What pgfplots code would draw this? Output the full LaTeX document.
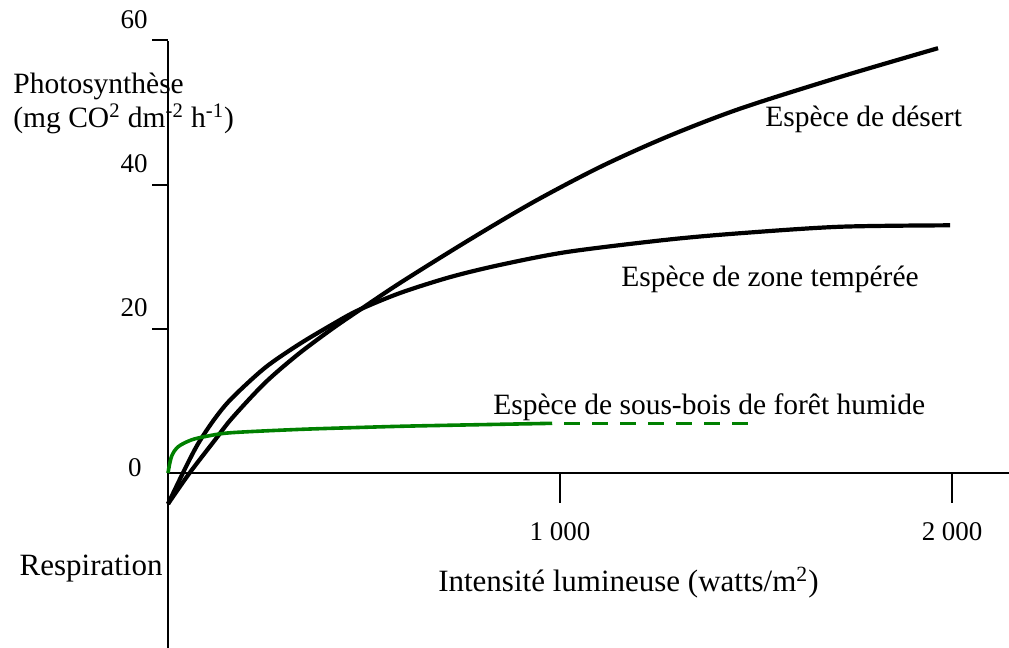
\documentclass[border=0pt]{standalone}
\usepackage{fontspec}
\setmainfont{Liberation Serif}
\usepackage{pgfplots}
\pgfplotsset{compat=1.18}
\definecolor{forestgreen}{RGB}{0,128,0}

\begin{document}
\begin{tikzpicture}
  \begin{axis}[
      scale only axis,
      width=420.5pt, height=303.5pt,
      xmin=0, xmax=2145, ymin=-24.3, ymax=60,
      axis x line=middle, axis y line=left,
      axis line style={line width=1pt, -},
      major tick length=0pt,
      xtick={1000,2000}, xticklabels={1 000,2 000},
      ytick={20,40,60}, yticklabels={20,40,60},
      extra y ticks={0}, extra y tick labels={0},
      extra y tick style={yticklabel style={xshift=-3pt, yshift=-7.5pt}},
      xticklabel style={anchor=base, inner sep=0pt, yshift=-33.5pt,
        font=\fontsize{13.5}{16}\selectfont},
      yticklabel style={anchor=base east, inner sep=0pt, xshift=-10pt, yshift=6pt,
        font=\fontsize{13.5}{16}\selectfont},
      clip=false,
    ]
    % espece de desert
    \addplot[black, line width=2.1pt, smooth] coordinates {
      (0,-4.3) (55,0) (120,4.6) (163,7.6) (247,12.5) (332,16.5) (418,20.0)
      (485,22.5) (592,26.4) (763,32.2) (931,37.6) (1102,42.5) (1273,46.7)
      (1459,50.6) (1714,55.0) (1964,59.0)
    };
    % espece de zone temperee
    \addplot[black, line width=2.1pt, smooth] coordinates {
      (0,-4.3) (38,0) (76,4.0) (120,7.6) (163,10.4) (247,14.6) (332,17.8)
      (418,20.6) (485,22.6) (592,25.0) (719,27.2) (847,28.9) (1018,30.7)
      (1273,32.4) (1459,33.3) (1714,34.2) (1995,34.4)
    };
    % sous-bois de foret humide
    \addplot[forestgreen, line width=1.8pt, smooth] coordinates {
      (0,0) (9,2.3) (26,3.65) (60,4.6) (103,5.15) (162,5.6) (332,6.05)
      (503,6.35) (643,6.55) (980,6.9)
    };
    \addplot[forestgreen, line width=1.8pt, dash pattern=on 8pt off 6pt, dash phase=8pt]
      coordinates {(980,6.9) (1480,6.9)};
    % ticks
    \draw[line width=1pt] (axis cs:0,20) -- ([xshift=-8pt]axis cs:0,20);
    \draw[line width=1pt] (axis cs:0,40) -- ([xshift=-8pt]axis cs:0,40);
    \draw[line width=1pt] ([yshift=0.5pt]axis cs:0,60) -- ([xshift=-8pt,yshift=0.5pt]axis cs:0,60);
    \draw[line width=1pt] (axis cs:1000,0) -- ([yshift=-15pt]axis cs:1000,0);
    \draw[line width=1pt] (axis cs:2000,0) -- ([yshift=-15pt]axis cs:2000,0);
  \end{axis}
  \pgfresetboundingbox
  \path[use as bounding box] ([xshift=-84pt]current axis.south west)
    rectangle ([yshift=20.5pt]current axis.north east);
  \begin{scope}[shift={([xshift=-84pt,yshift=20.5pt]current axis.north west)},
      x=0.5pt, y=-0.5pt,
      every node/.style={inner sep=0pt, font=\fontsize{14.75}{17}\selectfont}]
    \node[anchor=base west] at (13,94) {Photosynthèse};
    \node[anchor=base west] at (13,128)
      {(mg CO\textsuperscript{2} dm\textsuperscript{-2} h\textsuperscript{-1})};
    \node[anchor=base east, font=\fontsize{15.5}{18}\selectfont] at (163,576) {Respiration};
    \node[anchor=base west] at (765,127) {Espèce de désert};
    \node[anchor=base west] at (621,287) {Espèce de zone tempérée};
    \node[anchor=base west] at (493,415) {Espèce de sous-bois de forêt humide};
    \node[anchor=base east, font=\fontsize{15.5}{18}\selectfont] at (819,592)
      {Intensité lumineuse (watts/m\textsuperscript{2})};
  \end{scope}
\end{tikzpicture}
\end{document}
